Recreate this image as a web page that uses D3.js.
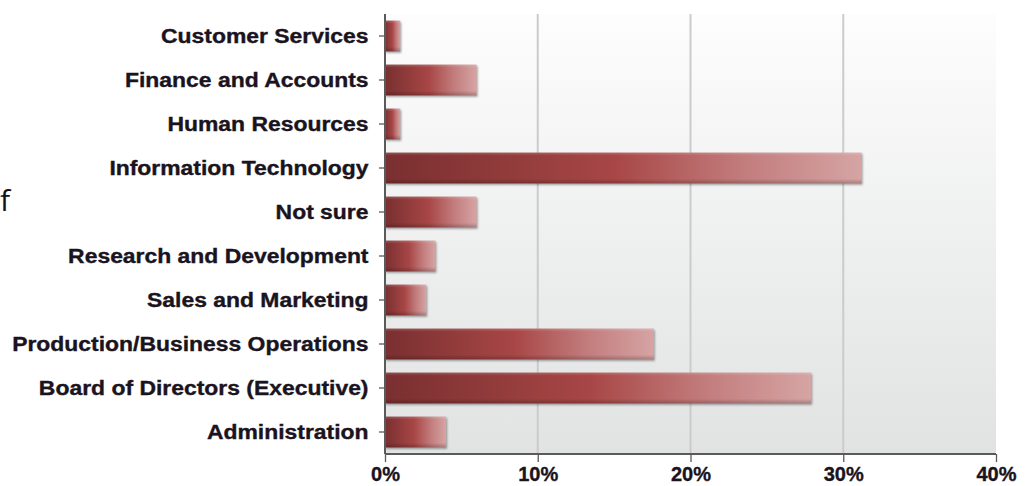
<!DOCTYPE html>
<html>
<head>
<meta charset="utf-8">
<script src="https://cdn.jsdelivr.net/npm/d3@7"></script>
<style>
  html, body { margin: 0; padding: 0; background: #ffffff; }
  svg { display: block; }
  .ylab text { font-family: "Liberation Sans", Arial, sans-serif; font-weight: bold; font-size: 19.5px; fill: #1a1320; stroke: #1a1320; stroke-width: 0.35px; }
  .xlab text { font-family: "Liberation Sans", Arial, sans-serif; font-weight: bold; font-size: 20px; fill: #1a1320; stroke: #1a1320; stroke-width: 0.35px; }
</style>
</head>
<body>
<svg id="chart" width="1030" height="486"></svg>
<script>
const categories = [
  "Customer Services",
  "Finance and Accounts",
  "Human Resources",
  "Information Technology",
  "Not sure",
  "Research and Development",
  "Sales and Marketing",
  "Production/Business Operations",
  "Board of Directors (Executive)",
  "Administration"
];
const values = [1.0, 6.0, 1.0, 31.2, 6.0, 3.3, 2.7, 17.6, 27.9, 4.0];
const xTicks = [0, 10, 20, 30, 40];
const xTickLabels = ["0%", "10%", "20%", "30%", "40%"];
const gridTicks = [10, 20, 30];

const svg = d3.select("#chart");
const pLeft = 385, pRight = 996, pTop = 14, pBottom = 454;

const x = d3.scaleLinear().domain([0, 40]).range([pLeft, pRight]);
const y = d3.scaleBand().domain(categories).range([pTop, pBottom]).paddingInner(0.3).paddingOuter(0.15);

const defs = svg.append("defs");
const bg = defs.append("linearGradient").attr("id", "bg").attr("x1", 0).attr("y1", 0).attr("x2", 0).attr("y2", 1);
bg.append("stop").attr("offset", "0%").attr("stop-color", "#fdfdfd");
bg.append("stop").attr("offset", "100%").attr("stop-color", "#e1e2e2");

const bar = defs.append("linearGradient").attr("id", "bar").attr("x1", 0).attr("y1", 0).attr("x2", 1).attr("y2", 0);
bar.append("stop").attr("offset", "0%").attr("stop-color", "#7a2f30");
bar.append("stop").attr("offset", "25%").attr("stop-color", "#913b3b");
bar.append("stop").attr("offset", "48%").attr("stop-color", "#a84646");
bar.append("stop").attr("offset", "75%").attr("stop-color", "#c27c7c");
bar.append("stop").attr("offset", "100%").attr("stop-color", "#d6a4a4");

const shade = defs.append("linearGradient").attr("id", "shade").attr("x1", 0).attr("y1", 0).attr("x2", 0).attr("y2", 1);
shade.append("stop").attr("offset", "0%").attr("stop-color", "#ffffff").attr("stop-opacity", 0.18);
shade.append("stop").attr("offset", "10%").attr("stop-color", "#ffffff").attr("stop-opacity", 0.0);
shade.append("stop").attr("offset", "85%").attr("stop-color", "#000000").attr("stop-opacity", 0.0);
shade.append("stop").attr("offset", "100%").attr("stop-color", "#000000").attr("stop-opacity", 0.22);

const blur = defs.append("filter").attr("id", "sh").attr("x", "-5%").attr("y", "-20%").attr("width", "115%").attr("height", "160%");
blur.append("feGaussianBlur").attr("stdDeviation", 1.2);

// plot background
svg.append("rect").attr("x", pLeft).attr("y", pTop).attr("width", pRight - pLeft).attr("height", pBottom - pTop).attr("fill", "url(#bg)");

// gridlines
svg.append("g").selectAll("line").data(gridTicks).join("line")
  .attr("x1", d => x(d)).attr("x2", d => x(d))
  .attr("y1", pTop).attr("y2", pBottom)
  .attr("stroke", "#cbcbcb").attr("stroke-width", 2);

// bars
const bars = svg.append("g");
bars.selectAll("rect.shadow").data(values).join("rect").attr("class", "shadow")
  .attr("x", x(0) + 1).attr("y", (d, i) => y(categories[i]) + 1.5)
  .attr("width", d => x(d) - x(0)).attr("height", y.bandwidth())
  .attr("fill", "#000").attr("opacity", 0.35).attr("filter", "url(#sh)");
bars.selectAll("rect.bar").data(values).join("rect").attr("class", "bar")
  .attr("x", x(0)).attr("y", (d, i) => y(categories[i]))
  .attr("width", d => x(d) - x(0)).attr("height", y.bandwidth())
  .attr("fill", "url(#bar)");
bars.selectAll("rect.shade").data(values).join("rect").attr("class", "shade")
  .attr("x", x(0)).attr("y", (d, i) => y(categories[i]))
  .attr("width", d => x(d) - x(0)).attr("height", y.bandwidth())
  .attr("fill", "url(#shade)");

// y axis
const sx = 1.175;
const yAxis = svg.append("g").attr("class", "ylab").attr("transform", `translate(${pLeft},0)`)
  .call(d3.axisLeft(y).tickSize(6).tickPadding(3));
yAxis.select(".domain").attr("stroke", "#5a5a5a").attr("stroke-width", 2).attr("d", `M0,${pTop}V${pBottom}`);
yAxis.selectAll(".tick line").attr("stroke", "#5a5a5a").attr("stroke-width", 1.3);
yAxis.selectAll(".tick text").attr("transform", `scale(${sx},1)`).attr("x", -16.5 / sx).attr("dy", "0.36em");

// x axis
const xAxis = svg.append("g").attr("class", "xlab").attr("transform", `translate(0,${pBottom})`)
  .call(d3.axisBottom(x).tickValues(xTicks).tickFormat((d, i) => xTickLabels[i]).tickSize(8).tickPadding(5));
xAxis.select(".domain").attr("stroke", "#5a5a5a").attr("stroke-width", 2).attr("d", `M${pLeft},0H${pRight}`);
xAxis.selectAll(".tick line").attr("stroke", "#5a5a5a").attr("stroke-width", 1.3);
xAxis.selectAll(".tick text").attr("dy", "0.71em");

// clipped fragment at left edge
svg.append("text").attr("x", 0).attr("y", 211)
  .attr("font-family", "'Open Sans', 'Noto Sans', sans-serif").attr("font-size", 30).attr("fill", "#111")
  .text("f");
</script>
</body>
</html>
